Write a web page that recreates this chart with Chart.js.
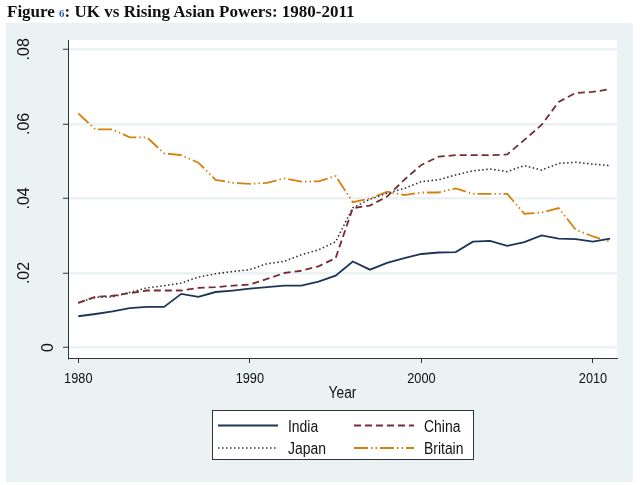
<!DOCTYPE html>
<html>
<head>
<meta charset="utf-8">
<script src="https://cdn.jsdelivr.net/npm/chart.js@4"></script>
<style>
  html, body { margin: 0; padding: 0; background: #fff; }
  #wrap { position: relative; width: 640px; height: 485px; }
  #title { position: absolute; left: 7px; top: 2px; font: bold 17px 'Liberation Serif', 'Times New Roman', serif; color: #111; white-space: nowrap; }
  #title span { color: #2a5db0; font-size: 11px; }
  canvas { position: absolute; left: 0; top: 0; }
</style>
</head>
<body>
<div id="wrap">
  <canvas id="uk" width="640" height="485"></canvas>
  <div id="title">Figure <span>6</span>: UK vs Rising Asian Powers: 1980-2011</div>
</div>
<script>
const years = [1980,1981,1982,1983,1984,1985,1986,1987,1988,1989,1990,1991,1992,1993,1994,1995,
               1996,1997,1998,1999,2000,2001,2002,2003,2004,2005,2006,2007,2008,2009,2010,2011];
const india = [.0084,.0090,.0097,.0106,.0109,.0109,.0144,.0136,.0149,.0153,
               .0158,.0162,.0166,.0166,.0177,.0193,.0231,.0209,.0227,.0240,
               .0251,.0255,.0256,.0284,.0286,.0273,.0283,.0301,.0292,.0291,.0284,.0292];
const china = [.0120,.0136,.0139,.0146,.0153,.0153,.0153,.0160,.0162,.0166,
               .0169,.0184,.0200,.0206,.0218,.0240,.0374,.0381,.0405,.0450,
               .0490,.0512,.0516,.0516,.0516,.0518,.0557,.0597,.0659,.0683,.0686,.0693];
const japan = [.0120,.0135,.0136,.0148,.0160,.0166,.0173,.0189,.0198,.0204,
               .0209,.0225,.0231,.0249,.0262,.0284,.0375,.0398,.0414,.0427,
               .0445,.0450,.0463,.0474,.0479,.0472,.0488,.0476,.0494,.0497,.0492,.0488];
const britain = [.0628,.0585,.0585,.0564,.0564,.0521,.0516,.0496,.0450,.0442,
                 .0439,.0442,.0454,.0445,.0446,.0460,.0390,.0400,.0418,.0409,
                 .0416,.0416,.0427,.0412,.0412,.0412,.0359,.0362,.0374,.0316,.0298,.0284];
const xTicks = [1980, 1990, 2000, 2010];
const yTicks = [0, .02, .04, .06, .08];
const yTickLabels = ['0', '.02', '.04', '.06', '.08'];
const xTitle = 'Year';

const BG = '#eaf2f3';
const FONT = "'Liberation Sans', Arial, sans-serif";

function series(vals) {
    return vals.map((v, i) => ({ x: years[i], y: v }));
}

// squeezed text, the original labels are narrow
function narrowText(ctx, s, x, y, sx, align) {
    ctx.save();
    ctx.translate(x, y);
    ctx.scale(sx, 1);
    ctx.textAlign = align;
    ctx.fillText(s, 0, 0);
    ctx.restore();
}

const frame = {
    id: 'frame',
    beforeDraw(chart) {
        const ctx = chart.ctx, a = chart.chartArea;
        ctx.save();
        ctx.fillStyle = BG;
        ctx.fillRect(6, 23, 627, 459);
        ctx.fillStyle = '#fff';
        ctx.fillRect(a.left, a.top, a.right - a.left, a.bottom - a.top);
        ctx.restore();
    },
    afterDraw(chart) {
        const ctx = chart.ctx, a = chart.chartArea;
        const xs = chart.scales.x, ys = chart.scales.y;
        ctx.save();
        ctx.fillStyle = '#111';
        ctx.textBaseline = 'alphabetic';

        // x tick labels
        ctx.font = '15px ' + FONT;
        xTicks.forEach(v => narrowText(ctx, String(v), xs.getPixelForValue(v), 383, 0.85, 'center'));

        // axis title
        ctx.font = '16px ' + FONT;
        narrowText(ctx, xTitle, (a.left + a.right) / 2, 398, 0.86, 'center');

        // rotated y tick labels
        ctx.font = '16px ' + FONT;
        ctx.textBaseline = 'middle';
        ctx.textAlign = 'center';
        yTicks.forEach((v, i) => {
            const s = yTickLabels[i];
            const w = ctx.measureText(s).width;
            ctx.save();
            ctx.translate(64 - 1.75 * w, ys.getPixelForValue(v));
            ctx.rotate(-Math.PI / 2);
            ctx.fillText(s, 0, 0);
            ctx.restore();
        });

        // legend box
        ctx.fillStyle = '#fff';
        ctx.fillRect(212, 410, 262, 49);
        ctx.strokeStyle = '#333';
        ctx.lineWidth = 1;
        ctx.strokeRect(212.5, 410.5, 261, 49);
        ctx.font = '16px ' + FONT;
        ctx.textBaseline = 'alphabetic';
        chart.data.datasets.forEach((ds, i) => {
            const col = i % 2, row = Math.floor(i / 2);
            const x0 = col ? 354 : 218, x1 = col ? 414 : 278;
            const y = row ? 448 : 425.5;
            ctx.save();
            ctx.strokeStyle = ds.borderColor;
            ctx.lineWidth = ds.borderWidth;
            ctx.setLineDash(ds.borderDash || []);
            ctx.beginPath();
            ctx.moveTo(x0, y);
            ctx.lineTo(x1, y);
            ctx.stroke();
            ctx.restore();
            ctx.fillStyle = '#111';
            narrowText(ctx, ds.label, x1 + 10, y + 6, 0.87, 'left');
        });
        ctx.restore();
    }
};

const ctxUk = document.getElementById('uk');
const ukChart = new Chart(ctxUk, {
    type: 'line',
    data: {
        datasets: [
            { label: 'India', data: series(india), borderColor: '#1c3558', borderWidth: 1.8 },
            { label: 'China', data: series(china), borderColor: '#7a2a35', borderWidth: 1.8, borderDash: [7, 4] },
            { label: 'Japan', data: series(japan), borderColor: '#333333', borderWidth: 1.6, borderDash: [1.5, 2.5] },
            { label: 'Britain', data: series(britain), borderColor: '#d4820f', borderWidth: 1.8, borderDash: [14, 3, 1.5, 3, 1.5, 3] }
        ]
    },
    options: {
        responsive: false,
        animation: false,
        events: [],
        layout: { padding: { left: 5, top: 40, right: 23, bottom: 0 } },
        elements: { point: { radius: 0 }, line: { tension: 0, borderCapStyle: 'butt' } },
        plugins: { legend: { display: false }, tooltip: { enabled: false } },
        scales: {
            x: {
                type: 'linear',
                min: 1979.4,
                max: 2011.4,
                afterBuildTicks: s => { s.ticks = xTicks.map(v => ({ value: v })); },
                afterFit: s => { s.height = 127; },
                ticks: { display: false },
                grid: { drawOnChartArea: false, drawTicks: true, tickLength: 5, tickColor: '#333', tickWidth: 1 },
                border: { display: true, color: '#333', width: 1 }
            },
            y: {
                min: -0.0028,
                max: 0.0825,
                afterBuildTicks: s => { s.ticks = yTicks.map(v => ({ value: v })); },
                afterFit: s => { s.width = 63; },
                ticks: { display: false },
                grid: { color: BG, lineWidth: 2.5, drawTicks: true, tickLength: 5, tickColor: '#333', tickWidth: 1 },
                border: { display: true, color: '#333', width: 1 }
            }
        }
    },
    plugins: [frame]
});
</script>
</body>
</html>
